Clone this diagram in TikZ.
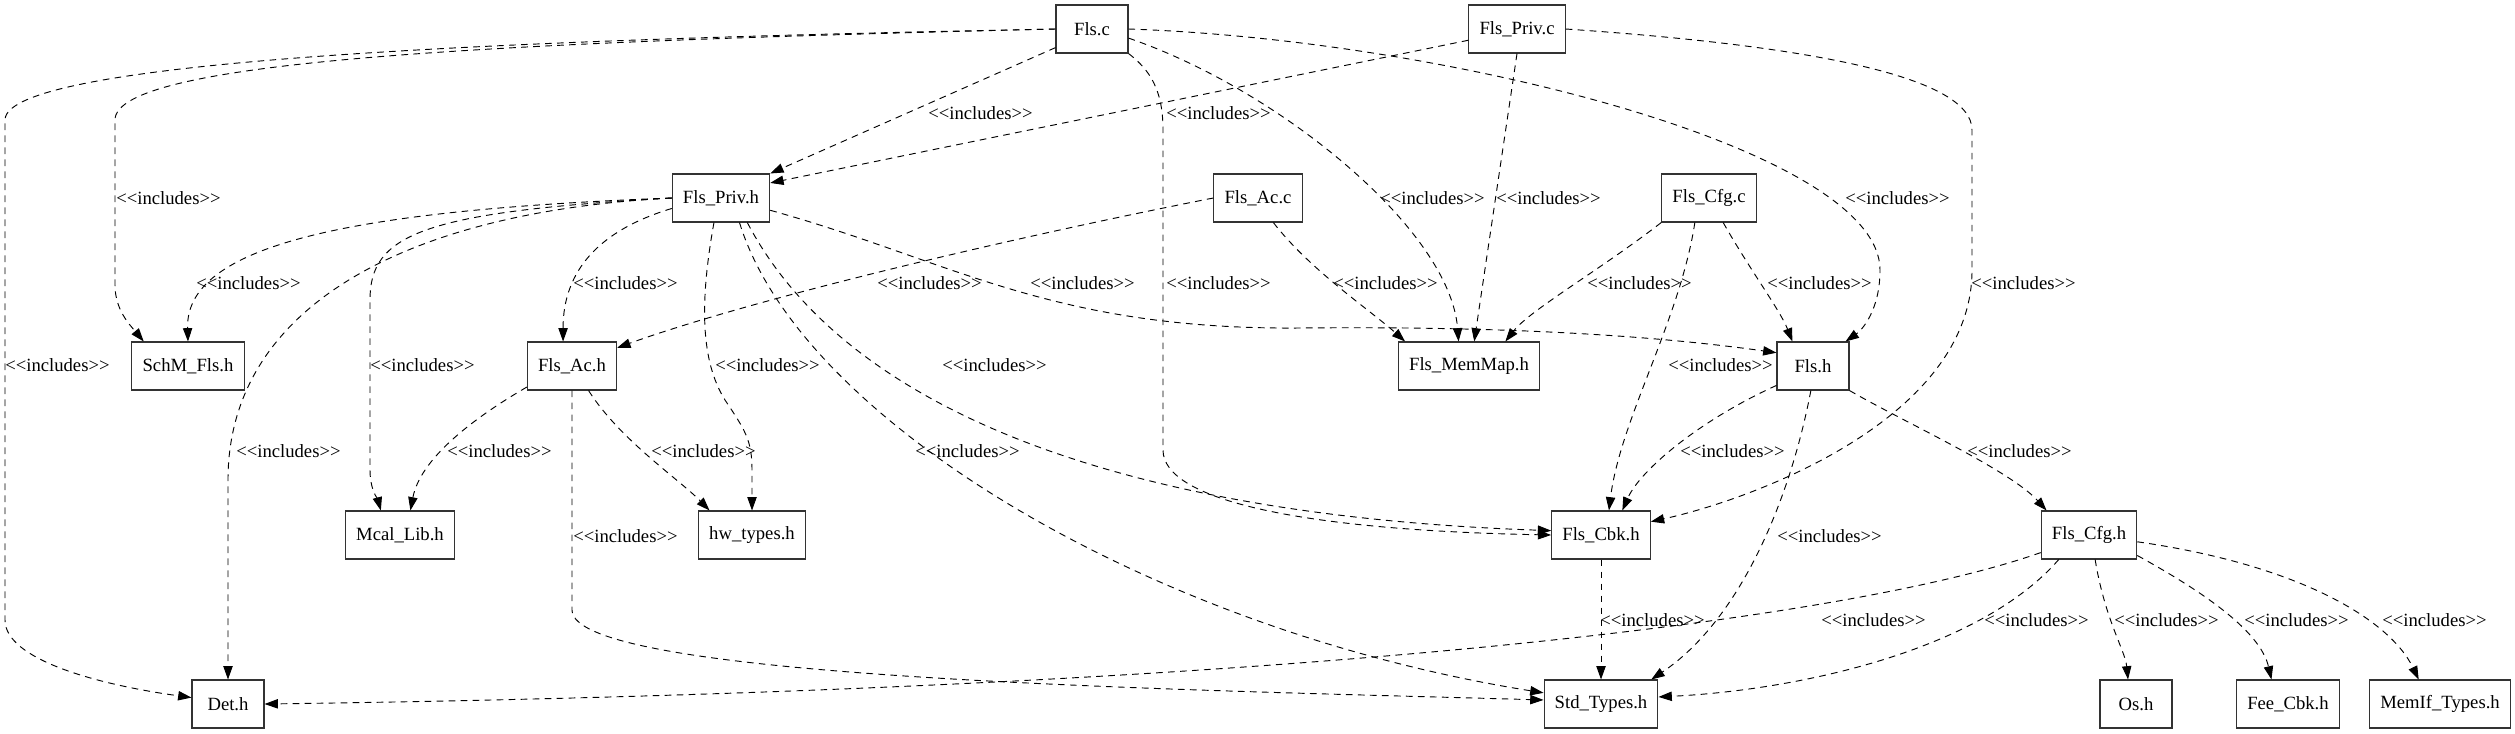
\documentclass[tikz,border=0pt]{standalone}
\usepackage{fontspec}
\setmainfont{Liberation Serif}
\usetikzlibrary{arrows.meta}
\newcommand\incl{<\kern0pt<includes>\kern0pt>}

\begin{document}
\begin{tikzpicture}[x=0.75pt,y=-0.75pt,
  file/.style={draw=black!80,line width=0.8pt,minimum width=54pt,minimum height=36pt,inner xsep=8pt,font=\fontsize{14}{16}\selectfont},
  inc/.style={draw,dash pattern=on 5pt off 4pt,line width=0.7pt,-{Triangle[length=10pt,width=7pt]}},
  lbl/.style={anchor=west,inner sep=0pt,font=\fontsize{14}{16}\selectfont}]
\useasboundingbox (0,0) rectangle (2515,733);

% files
\node[file] (flsc) at (1092,29) {Fls.c};
\node[file] (fpc) at (1517,29) {Fls\_Priv.c};
\node[file] (fph) at (721,198) {Fls\_Priv.h};
\node[file] (fac) at (1258,198) {Fls\_Ac.c};
\node[file] (fcc) at (1709,198) {Fls\_Cfg.c};
\node[file] (schm) at (188,366) {SchM\_Fls.h};
\node[file] (fah) at (572,366) {Fls\_Ac.h};
\node[file] (fmm) at (1469,366) {Fls\_MemMap.h};
\node[file] (flsh) at (1813,366) {Fls.h};
\node[file] (mcal) at (400,535) {Mcal\_Lib.h};
\node[file] (hwt) at (752,535) {hw\_types.h};
\node[file] (cbk) at (1601,535) {Fls\_Cbk.h};
\node[file] (fcfg) at (2089,535) {Fls\_Cfg.h};
\node[file] (det) at (228,704) {Det.h};
\node[file] (std) at (1601,704) {Std\_Types.h};
\node[file] (osh) at (2136,704) {Os.h};
\node[file] (fee) at (2288,704) {Fee\_Cbk.h};
\node[file] (mif) at (2440,704) {MemIf\_Types.h};

% Fls.c
\draw[inc] (flsc.west) .. controls (600,38) and (5,55) .. (5,120) -- (5,620) .. controls (5,660) and (100,685) .. (det.170);
\draw[inc] (flsc.west) .. controls (500,42) and (115,60) .. (115,120) -- (115,285) .. controls (115,310) and (130,325) .. (schm.151);
\draw[inc] (flsc.207) -- (fph.north east);
\draw[inc] (flsc.south east) .. controls (1150,70) and (1163,90) .. (1163,130) -- (1163,450) .. controls (1163,500) and (1300,530) .. (cbk.west);
\draw[inc] (flsc.-14) .. controls (1280,90) and (1450,230) .. (fmm.113);
\draw[inc] (flsc.east) .. controls (1450,40) and (1880,150) .. (1880,270) .. controls (1880,310) and (1862,330) .. (flsh.37);
% Fls_Priv.c
\draw[inc] (fpc.193) -- (fph.17);
\draw[inc] (fpc.south) -- (fmm.78);
\draw[inc] (fpc.east) .. controls (1800,45) and (1972,75) .. (1972,130) -- (1972,270) .. controls (1972,420) and (1750,500) .. (cbk.15);
% Fls_Priv.h
\draw[inc] (fph.west) .. controls (350,210) and (185,245) .. (schm.north);
\draw[inc] (fph.west) .. controls (400,212) and (228,310) .. (228,480) -- (det.north);
\draw[inc] (fph.west) .. controls (420,212) and (370,235) .. (370,300) -- (370,470) .. controls (370,490) and (378,500) .. (mcal.128);
\draw[inc] (fph.192) .. controls (600,230) and (563,270) .. (fah.110);
\draw[inc] (fph.254) .. controls (700,300) and (700,360) .. (725,400) .. controls (745,430) and (752,440) .. (752,470) -- (hwt.north);
\draw[inc] (fph.-53) .. controls (800,420) and (1150,630) .. (std.169);
\draw[inc] (fph.-43) .. controls (840,400) and (1100,515) .. (cbk.175);
\draw[inc] (fph.-14) .. controls (950,260) and (1050,330) .. (1300,328) .. controls (1500,326) and (1650,335) .. (flsh.160);
% Fls_Ac.c and Fls_Cfg.c
\draw[inc] (fac.west) .. controls (1000,240) and (750,300) .. (fah.22);
\draw[inc] (fac.-58) .. controls (1310,270) and (1370,310) .. (fmm.159);
\draw[inc] (fcc.south west) .. controls (1600,270) and (1530,310) .. (fmm.34);
\draw[inc] (fcc.240) .. controls (1680,320) and (1620,420) .. (cbk.72);
\draw[inc] (fcc.-60) .. controls (1750,270) and (1780,310) .. (flsh.130);
% Fls_Ac.h
\draw[inc] (fah.205) .. controls (470,420) and (420,460) .. (mcal.67);
\draw[inc] (fah.-56) .. controls (620,440) and (680,480) .. (hwt.150);
\draw[inc] (fah.south) -- (572,610) .. controls (572,680) and (1200,690) .. (std.176);
% Fls.h
\draw[inc] (flsh.208) .. controls (1700,420) and (1640,470) .. (cbk.49);
\draw[inc] (flsh.265) .. controls (1790,500) and (1740,620) .. (std.26);
\draw[inc] (flsh.south east) .. controls (1900,420) and (2010,470) .. (fcfg.150);
\draw[inc] (cbk.south) -- (std.north);
% Fls_Cfg.h
\draw[inc] (fcfg.200) .. controls (1850,620) and (1300,690) .. (det.east);
\draw[inc] (fcfg.219) .. controls (1980,650) and (1800,690) .. (std.7);
\draw[inc] (fcfg.284) .. controls (2105,620) and (2125,650) .. (osh.108);
\draw[inc] (fcfg.-23) .. controls (2200,590) and (2260,630) .. (fee.124);
\draw[inc] (fcfg.-8) .. controls (2300,565) and (2390,620) .. (mif.131);

% labels
\foreach \x/\y [count=\i] in {5/365, 116/198, 196/283, 573/283, 370/365, 715/365, 236/451,
  447/451, 651/451, 573/536, 928/113, 1166/113, 1380/198, 1496/198, 877/283, 1030/283,
  1166/283, 1333/283, 1587/283, 942/365, 1845/198, 1767/283, 1971/283, 1668/365, 915/451,
  1600/620, 1680/451, 1967/451, 1777/536, 1821/620, 1984/620, 2114/620, 2244/620, 2382/620}
  \node[lbl] (inc\i) at (\x,\y) {\incl};
\end{tikzpicture}
\end{document}
